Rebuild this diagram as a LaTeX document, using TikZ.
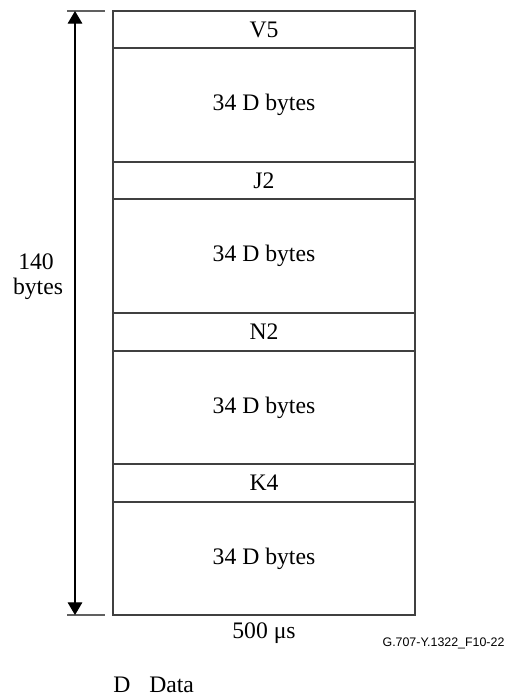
\documentclass[tikz,border=0pt]{standalone}
\usepackage{fontspec}
\setmainfont{Liberation Serif}
\newfontfamily\labelsans{Liberation Sans}
\usetikzlibrary{arrows.meta}
\definecolor{boxline}{HTML}{404040}
\definecolor{tickline}{HTML}{606060}
\tikzset{
  rowbox/.style={draw=boxline, line width=1.1pt, minimum width=226.5pt, inner sep=0pt, font=\fontsize{17.75}{20}\selectfont, anchor=center},
  txt/.style={inner sep=0pt, font=\fontsize{17.75}{20}\selectfont},
  smalltxt/.style={inner sep=0pt, font=\labelsans\fontsize{9.3}{11}\selectfont},
  tick/.style={draw=tickline, line width=0.9pt},
  dimarrow/.style={draw=black, line width=0.8pt, {Triangle[width=11pt,length=9.5pt]}-{Triangle[width=11pt,length=9.5pt]}}
}
\begin{document}
\begin{tikzpicture}[x=0.75pt,y=-0.75pt]
\useasboundingbox (0,0) rectangle (508,700);
% rows
\node[rowbox, minimum height=27.75pt] (v5) at (264,29.5) {V5};
\node[rowbox, minimum height=85.5pt] (d1) at (264,105) {34 D bytes};
\node[rowbox, minimum height=27.75pt] (j2) at (264,180.5) {J2};
\node[rowbox, minimum height=85.5pt] (d2) at (264,256) {34 D bytes};
\node[rowbox, minimum height=28.5pt] (n2) at (264,332) {N2};
\node[rowbox, minimum height=84.75pt] (d3) at (264,407.5) {34 D bytes};
\node[rowbox, minimum height=28.5pt] (k4) at (264,483) {K4};
\node[rowbox, minimum height=84.75pt] (d4) at (264,558.5) {34 D bytes};
% dimension
\coordinate (tl) at (67,11);
\coordinate (tr) at (105,11);
\coordinate (bl) at (67,615);
\coordinate (br) at (105,615);
\coordinate (at) at (75,11);
\coordinate (ab) at (75,615);
\draw[tick] (tl) -- (tr);
\draw[tick] (bl) -- (br);
\draw[dimarrow] (at) -- (ab);
\node[txt] (n140) at (36,262) {140};
\node[txt] (nbytes) at (38,289) {bytes};
% bottom labels
\node[txt] (time) at (264,633) {500 μs};
\node[smalltxt] (fig) at (443.5,643) {G.707-Y.1322\_F10-22};
\node[txt, anchor=west] (dkey) at (113,685) {D};
\node[txt, anchor=west] (dval) at (149,685) {Data};
\end{tikzpicture}
\end{document}
